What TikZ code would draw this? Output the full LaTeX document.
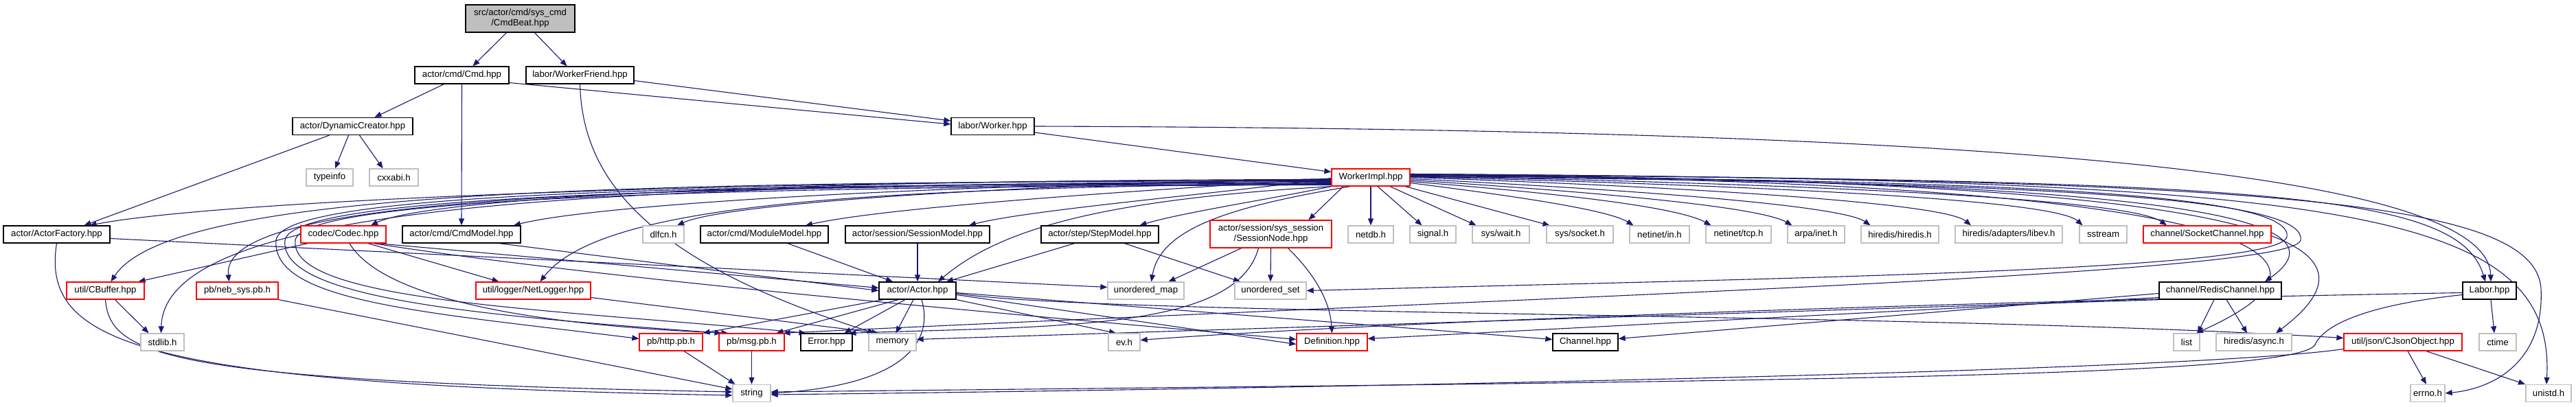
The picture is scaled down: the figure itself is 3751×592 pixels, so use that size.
\documentclass[tikz,border=0pt]{standalone}
\usepackage{fontspec}
\setmainfont{Liberation Sans}
\usetikzlibrary{arrows.meta}
\definecolor{edgec}{HTML}{191970}
\definecolor{sysgray}{HTML}{BFBFBF}
\definecolor{trunc}{HTML}{FF0000}
\pgfdeclarelayer{background}
\pgfsetlayers{background,main}
\begin{document}
\begin{tikzpicture}[x=1pt,y=1pt,
  every node/.style={font=\fontsize{13.2}{15}\selectfont, inner sep=0pt, minimum height=25pt, fill=white, line width=1.3pt, align=center},
  hdr/.style={draw=black},
  sysf/.style={draw=sysgray},
  trn/.style={draw=trunc},
  rootbox/.style={draw=black, fill=sysgray},
  dep/.style={draw=edgec, line width=1.1pt, -{Triangle[length=10pt,width=8pt]}}]
\useasboundingbox (0,0) rectangle (3751,-592);

% nodes
\node[rootbox, minimum width=159pt, minimum height=40pt] (CmdBeat) at (757.5,-27) {src/actor/cmd/sys\_cmd\\/CmdBeat.hpp};
\node[hdr, minimum width=137pt] (Cmd) at (672.5,-109.5) {actor/cmd/Cmd.hpp};
\node[hdr, minimum width=157pt] (WorkerFriend) at (844.5,-109.5) {labor/WorkerFriend.hpp};
\node[hdr, minimum width=175pt] (DynCreator) at (513.5,-184) {actor/DynamicCreator.hpp};
\node[sysf, minimum width=68pt] (typeinfo) at (480,-258.5) {typeinfo};
\node[sysf, minimum width=71pt] (cxxabi) at (573.5,-258.5) {cxxabi.h};
\node[hdr, minimum width=121pt] (Worker) at (1445.5,-184) {labor/Worker.hpp};
\node[trn, minimum width=114pt] (WorkerImpl) at (1996,-258.5) {WorkerImpl.hpp};

\node[hdr, minimum width=155pt] (ActorFactory) at (82.5,-341.5) {actor/ActorFactory.hpp};
\node[trn, minimum width=124pt] (Codec) at (500,-341.5) {codec/Codec.hpp};
\node[hdr, minimum width=172pt] (CmdModel) at (672,-341.5) {actor/cmd/CmdModel.hpp};
\node[sysf, minimum width=60pt] (dlfcn) at (966,-341.5) {dlfcn.h};
\node[hdr, minimum width=186pt] (ModuleModel) at (1113,-341.5) {actor/cmd/ModuleModel.hpp};
\node[hdr, minimum width=210pt] (SessionModel) at (1336,-341.5) {actor/session/SessionModel.hpp};
\node[hdr, minimum width=171pt] (StepModel) at (1601.5,-341.5) {actor/step/StepModel.hpp};
\node[trn, minimum width=177pt, minimum height=40pt] (SessionNode) at (1850.5,-341) {actor/session/sys\_session\\/SessionNode.hpp};
\node[sysf, minimum width=66pt] (netdb) at (1996,-341.5) {netdb.h};
\node[sysf, minimum width=67pt] (signal) at (2086.5,-341.5) {signal.h};
\node[sysf, minimum width=83pt] (syswait) at (2185.5,-341.5) {sys/wait.h};
\node[sysf, minimum width=97pt] (syssocket) at (2300.5,-341.5) {sys/socket.h};
\node[sysf, minimum width=87pt] (netinetin) at (2416.5,-341.5) {netinet/in.h};
\node[sysf, minimum width=95pt] (netinettcp) at (2531.5,-341.5) {netinet/tcp.h};
\node[sysf, minimum width=83pt] (arpainet) at (2644.5,-341.5) {arpa/inet.h};
\node[sysf, minimum width=113pt] (hiredis) at (2766.5,-341.5) {hiredis/hiredis.h};
\node[sysf, minimum width=156pt] (libev) at (2925,-341.5) {hiredis/adapters/libev.h};
\node[sysf, minimum width=69pt] (sstream) at (3062.5,-341.5) {sstream};
\node[trn, minimum width=186pt] (SocketChannel) at (3214,-341.5) {channel/SocketChannel.hpp};

\node[trn, minimum width=113pt] (CBuffer) at (153.5,-423.5) {util/CBuffer.hpp};
\node[trn, minimum width=119pt] (nebsys) at (345.5,-423.5) {pb/neb\_sys.pb.h};
\node[trn, minimum width=167pt] (NetLogger) at (776.5,-423.5) {util/logger/NetLogger.hpp};
\node[hdr, minimum width=112pt] (Actor) at (1336,-423.5) {actor/Actor.hpp};
\node[sysf, minimum width=111pt] (umap) at (1668.5,-423.5) {unordered\_map};
\node[sysf, minimum width=104pt] (uset) at (1850,-423.5) {unordered\_set};
\node[hdr, minimum width=178pt] (RedisChannel) at (3233,-423.5) {channel/RedisChannel.hpp};
\node[hdr, minimum width=78pt] (Labor) at (3625,-423.5) {Labor.hpp};

\node[sysf, minimum width=63pt] (stdlib) at (236.5,-498.5) {stdlib.h};
\node[trn, minimum width=92pt] (pbhttp) at (977,-498.5) {pb/http.pb.h};
\node[trn, minimum width=95pt] (pbmsg) at (1094.5,-498.5) {pb/msg.pb.h};
\node[hdr, minimum width=75pt] (Error) at (1203.5,-498.5) {Error.hpp};
\node[sysf, minimum width=69pt] (memory) at (1299.5,-498.5) {memory};
\node[sysf, minimum width=46pt] (evh) at (1637,-498.5) {ev.h};
\node[trn, minimum width=103pt] (Definition) at (1939.5,-498.5) {Definition.hpp};
\node[hdr, minimum width=95pt] (Channel) at (2308.5,-498.5) {Channel.hpp};
\node[sysf, minimum width=38pt] (list) at (3184,-498.5) {list};
\node[sysf, minimum width=110pt] (async) at (3282,-498.5) {hiredis/async.h};
\node[trn, minimum width=172pt] (CJson) at (3499,-498.5) {util/json/CJsonObject.hpp};
\node[sysf, minimum width=54pt] (ctime) at (3637,-498.5) {ctime};

\node[sysf, minimum width=55pt] (string) at (1094.5,-573) {string};
\node[sysf, minimum width=50pt] (errno) at (3535,-573) {errno.h};
\node[sysf, minimum width=66pt] (unistd) at (3711,-573) {unistd.h};

\begin{pgfonlayer}{background}
% top part
\draw[dep] ([xshift=-20pt]CmdBeat.south) -- ([xshift=16pt]Cmd.north);
\draw[dep] ([xshift=21pt]CmdBeat.south) -- ([xshift=-19pt]WorkerFriend.north);
\draw[dep] ([xshift=-26pt]Cmd.south) -- ([xshift=32pt]DynCreator.north);
\draw[dep] (Cmd.south) -- (CmdModel.north);
\draw[dep] ([yshift=-11pt]Cmd.east) -- ([yshift=3pt]Worker.west);
\draw[dep] ([yshift=-8pt]WorkerFriend.east) -- ([yshift=8pt]Worker.west);
\draw[dep] (WorkerFriend.south) .. controls (848,-260) and (940,-380) .. ([xshift=-26pt]memory.north);
\draw[dep] ([xshift=-6pt]DynCreator.south) -- ([xshift=8pt]typeinfo.north);
\draw[dep] ([xshift=10pt]DynCreator.south) -- ([xshift=-16pt]cxxabi.north);
\draw[dep] ([xshift=-34pt]DynCreator.south) -- ([xshift=40pt]ActorFactory.north);
\draw[dep] ([yshift=-9pt]Worker.east) -- ([yshift=8pt]WorkerImpl.west);
\draw[dep] (Worker.east) .. controls (2900,-188) and (3622,-250) .. ([xshift=2pt]Labor.north);

% WorkerImpl fan to the left
\draw[dep] ([yshift=-4pt]WorkerImpl.west) .. controls (1100,-262) and (330,-290) .. ([xshift=48pt]ActorFactory.north);
\draw[dep] ([yshift=-5pt]WorkerImpl.west) .. controls (900,-265) and (250,-275) .. ([xshift=8pt]CBuffer.north);
\draw[dep] ([yshift=-6pt]WorkerImpl.west) .. controls (900,-268) and (240,-290) .. ([xshift=-2pt]stdlib.north);
\draw[dep] ([yshift=-7pt]WorkerImpl.west) .. controls (900,-270) and (320,-285) .. ([xshift=-12pt]nebsys.north);
\draw[dep] ([yshift=-3pt]WorkerImpl.west) .. controls (1100,-262) and (620,-290) .. ([xshift=40pt]Codec.north);
\draw[dep] ([yshift=-3pt]WorkerImpl.west) .. controls (1300,-270) and (860,-300) .. ([xshift=76pt]CmdModel.north);
\draw[dep] ([yshift=-8pt]WorkerImpl.west) .. controls (1300,-275) and (880,-290) .. ([xshift=10pt]NetLogger.north);
\draw[dep] ([yshift=-2pt]WorkerImpl.west) .. controls (1500,-268) and (1060,-295) .. ([xshift=20pt]dlfcn.north);
\draw[dep] ([yshift=-2pt]WorkerImpl.west) .. controls (1700,-275) and (1300,-300) .. ([xshift=60pt]ModuleModel.north);
\draw[dep] ([yshift=-1pt]WorkerImpl.west) .. controls (1800,-280) and (1500,-305) .. ([xshift=75pt]SessionModel.north);
\draw[dep] (WorkerImpl.south west) .. controls (1620,-290) and (1460,-330) .. ([xshift=30pt]Actor.north);
\draw[dep] (WorkerImpl.south west) .. controls (1850,-290) and (1720,-310) .. ([xshift=58pt]StepModel.north);
\draw[dep] ([xshift=-30pt]WorkerImpl.south) .. controls (1800,-300) and (1690,-330) .. ([xshift=8pt]umap.north);
\draw[dep] ([xshift=-40pt]WorkerImpl.south) -- ([xshift=55pt]SessionNode.north);
% loops on the left
\draw[dep] ([yshift=-9pt]WorkerImpl.west) .. controls (1000,-268) and (410,-280) .. (402,-350) .. controls (395,-440) and (620,-455) .. ([yshift=5pt]pbhttp.west);
\draw[dep] ([yshift=-10pt]WorkerImpl.west) .. controls (1000,-270) and (425,-285) .. (415,-350) .. controls (405,-435) and (700,-460) .. ([xshift=-44pt]pbmsg.north);
\draw[dep] ([yshift=-11pt]WorkerImpl.west) .. controls (1000,-272) and (440,-290) .. (430,-350) .. controls (420,-440) and (800,-450) .. ([xshift=-30pt]Error.north);

% WorkerImpl fan to the right
\draw[dep] (WorkerImpl.south) -- (netdb.north);
\draw[dep] ([xshift=10pt]WorkerImpl.south) -- ([xshift=-16pt]signal.north);
\draw[dep] ([xshift=28pt]WorkerImpl.south) -- ([xshift=-36pt]syswait.north);
\draw[dep] ([xshift=50pt]WorkerImpl.south) -- ([xshift=-44pt]syssocket.north);
\draw[dep] ([yshift=-8pt]WorkerImpl.east) .. controls (2200,-285) and (2340,-305) .. ([xshift=-38pt]netinetin.north);
\draw[dep] ([yshift=-6pt]WorkerImpl.east) .. controls (2250,-280) and (2440,-300) .. ([xshift=-40pt]netinettcp.north);
\draw[dep] ([yshift=-4pt]WorkerImpl.east) .. controls (2300,-278) and (2560,-300) .. ([xshift=-35pt]arpainet.north);
\draw[dep] ([yshift=-2pt]WorkerImpl.east) .. controls (2350,-275) and (2680,-298) .. ([xshift=-43pt]hiredis.north);
\draw[dep] (WorkerImpl.east) .. controls (2450,-272) and (2830,-295) .. ([xshift=-55pt]libev.north);
\draw[dep] ([yshift=1pt]WorkerImpl.east) .. controls (2550,-270) and (2990,-290) .. ([xshift=-30pt]sstream.north);
\draw[dep] ([yshift=2pt]WorkerImpl.east) .. controls (2650,-268) and (3100,-290) .. ([xshift=-59pt]SocketChannel.north);
\draw[dep] ([yshift=3pt]WorkerImpl.east) .. controls (3100,-262) and (3440,-310) .. ([xshift=65pt]RedisChannel.north);
\draw[dep] ([yshift=3pt]WorkerImpl.east) .. controls (3150,-262) and (3500,-350) .. ([xshift=14pt]list.north);
\draw[dep] ([yshift=4pt]WorkerImpl.east) .. controls (3200,-262) and (3520,-330) .. ([xshift=32pt]async.north);
\draw[dep] ([yshift=4pt]WorkerImpl.east) .. controls (3300,-262) and (3580,-280) .. ([xshift=-6pt]Labor.north);
\draw[dep] ([yshift=5pt]WorkerImpl.east) .. controls (3300,-262) and (3690,-290) .. (3700,-420) .. controls (3705,-520) and (3640,-565) .. (errno.east);
\draw[dep] ([yshift=5pt]WorkerImpl.east) .. controls (3400,-262) and (3722,-300) .. ([xshift=-3pt]unistd.north);
% loops on the right
\draw[dep] ([yshift=2pt]WorkerImpl.east) .. controls (2900,-262) and (3340,-280) .. (3330,-345) .. controls (3320,-395) and (2600,-405) .. (uset.east);
\draw[dep] ([yshift=1pt]WorkerImpl.east) .. controls (2950,-265) and (3360,-285) .. (3350,-350) .. controls (3340,-400) and (2300,-430) .. ([xshift=46pt]pbmsg.north);

% second row
\draw[dep] ([yshift=-6pt]ActorFactory.east) -- ([yshift=5pt]umap.west);
\draw[dep] (ActorFactory.south) .. controls (60,-500) and (200,-560) .. ([yshift=-3pt]string.west);
\draw[dep] ([xshift=-52pt]Codec.south) -- ([xshift=48pt]CBuffer.north);
\draw[dep] ([xshift=36pt]Codec.south) -- ([xshift=-50pt]NetLogger.north);
\draw[dep] ([xshift=9pt]Codec.south) .. controls (560,-440) and (800,-475) .. ([xshift=-34pt]pbmsg.north);
\draw[dep] ([xshift=50pt]Codec.south) -- ([yshift=4pt]Actor.west);
\draw[dep] ([xshift=44pt]Codec.south) .. controls (900,-410) and (1500,-460) .. ([yshift=4pt]Definition.west);
\draw[dep] ([xshift=55pt]CmdModel.south) -- (Actor.west);
\draw[dep] ([xshift=34pt]ModuleModel.south) -- ([xshift=-36pt]Actor.north);
\draw[dep] (SessionModel.south) -- (Actor.north);
\draw[dep] ([xshift=-37pt]StepModel.south) -- ([xshift=42pt]Actor.north);
\draw[dep] ([xshift=36pt]StepModel.south) -- ([xshift=-44pt]uset.north);
\draw[dep] ([xshift=-43pt]SessionNode.south) -- ([xshift=33pt]umap.north);
\draw[dep] (SessionNode.south) -- (uset.north);
\draw[dep] ([xshift=25pt]SessionNode.south) .. controls (1915,-400) and (1937,-440) .. (Definition.north);
\draw[dep] ([xshift=-18pt]SessionNode.south) .. controls (1800,-480) and (1550,-475) .. ([xshift=33pt]Error.north);

% third row
\draw[dep] ([xshift=14pt]CBuffer.south) -- ([xshift=-20pt]stdlib.north);
\draw[dep] (CBuffer.south) .. controls (160,-520) and (250,-555) .. ([yshift=2pt]string.west);
\draw[dep] (nebsys.south east) -- ([yshift=6pt]string.west);
\draw[dep] ([yshift=-10pt]NetLogger.east) -- ([xshift=-20pt]memory.north);
\draw[dep] ([xshift=-50pt]Actor.south) -- (pbhttp.north east);
\draw[dep] ([xshift=-28pt]Actor.south) -- ([xshift=36pt]pbmsg.north);
\draw[dep] ([xshift=-18pt]Actor.south) -- ([xshift=26pt]Error.north);
\draw[dep] ([xshift=-6pt]Actor.south) -- ([xshift=5pt]memory.north);
\draw[dep] ([xshift=6pt]Actor.south) .. controls (1358,-490) and (1330,-560) .. (string.east);
\draw[dep] (Actor.south east) -- ([xshift=-12pt]evh.north);
\draw[dep] ([yshift=-6pt]Actor.east) -- ([yshift=-3pt]Definition.west);
\draw[dep] ([yshift=-3pt]Actor.east) -- ([yshift=4pt]Channel.west);
\draw[dep] ([yshift=-4pt]Actor.east) .. controls (1600,-460) and (2800,-455) .. ([yshift=6pt]CJson.west);
\draw[dep] ([xshift=-9pt]RedisChannel.south) -- ([xshift=16pt]list.north);
\draw[dep] ([xshift=9pt]RedisChannel.south) -- ([xshift=-10pt]async.north);
\draw[dep] ([yshift=-4pt]RedisChannel.west) -- ([yshift=5pt]Channel.east);
\draw[dep] ([yshift=-10pt]RedisChannel.west) -- ([yshift=5pt]Definition.east);
\draw[dep] (RedisChannel.south west) -- ([yshift=4pt]memory.east);
\draw[dep] ([yshift=-3pt]Labor.west) .. controls (2800,-440) and (2000,-470) .. ([yshift=3pt]evh.east);
\draw[dep] ([xshift=2pt]Labor.south) -- ([xshift=-5pt]ctime.north);
\draw[dep] ([yshift=-6pt]Labor.west) .. controls (3440,-445) and (3385,-475) .. (3372,-500) .. controls (3365,-550) and (2600,-555) .. ([yshift=2pt]string.east);
\draw[dep] ([yshift=-10pt]CJson.west) .. controls (3200,-540) and (2000,-565) .. ([yshift=-2pt]string.east);
\draw[dep] ([xshift=7pt]CJson.south) -- ([xshift=-2pt]errno.north);
\draw[dep] ([xshift=34pt]CJson.south) -- ([xshift=-34pt]unistd.north);
\draw[dep] ([xshift=19pt]pbhttp.south) -- ([xshift=-24pt]string.north);
\draw[dep] (pbmsg.south) -- (string.north);
\end{pgfonlayer}
\end{tikzpicture}
\end{document}
